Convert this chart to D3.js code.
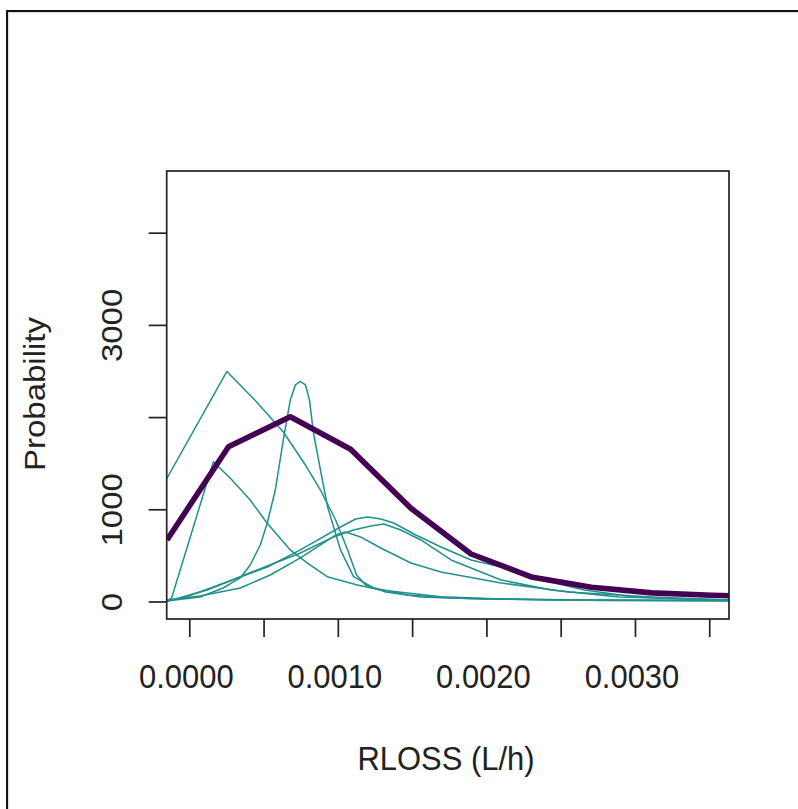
<!DOCTYPE html>
<html>
<head>
<meta charset="utf-8">
<script src="https://cdn.jsdelivr.net/npm/d3@7"></script>
<style>
  html, body { margin: 0; padding: 0; background: #fff; }
  svg { display: block; font-family: "Liberation Sans", Arial, sans-serif; }
</style>
</head>
<body>
<svg id="chart" width="798" height="809"></svg>
<script>
// ---------------- data ----------------
const xTicks = [0, 0.0005, 0.001, 0.0015, 0.002, 0.0025, 0.003, 0.0035];
const xTickLabels = ["0.0000", "", "0.0010", "", "0.0020", "", "0.0030", ""];
const yTicks = [0, 1000, 2000, 3000, 4000];
const yTickLabels = ["0", "1000", "", "3000", ""];
const xLabel = "RLOSS (L/h)";
const yLabel = "Probability";
const xDomain = [-0.000152, 0.003633];
const yDomain = [-190, 4669];

// overall (thick purple) density
const meanX = [-0.00015, 0.000264, 0.00068, 0.001086, 0.001492, 0.001897, 0.002302, 0.002707, 0.003113, 0.003518, 0.0039];
const meanY = [667, 1679, 2004, 1651, 1011, 515, 266, 155, 93, 68, 50];

// individual (teal) densities, [x, y]
const indiv1 = [[-0.000153,1329],[0.000253,2495],[0.000444,2180],[0.000633,1838],[0.000782,1480],[0.000883,1209],
  [0.000985,884],[0.001066,559],[0.001126,287],[0.001187,179],[0.001322,103],[0.001559,49],[0.001964,27],
  [0.002775,16],[0.00364,11],[0.0039,10]];
const indiv2 = [[-0.000153,5],[-0.000119,38],[0.000162,1516],[0.000275,1339],[0.00041,1101],[0.000523,851],
  [0.00068,559],[0.000793,418],[0.000928,269],[0.001131,179],[0.001289,125],[0.001694,52],[0.002099,27],
  [0.002775,11],[0.00364,5],[0.0039,4]];
const indiv3 = [[-0.000153,5],[0.0000723,49],[0.000228,146],[0.000343,255],[0.00041,396],[0.000478,613],
  [0.000525,851],[0.000579,1209],[0.000633,1752],[0.00068,2186],[0.000714,2349],[0.000748,2386],[0.000782,2349],
  [0.000809,2186],[0.000836,1828],[0.000883,1426],[0.000931,1025],[0.000978,775],[0.001018,559],[0.001106,269],
  [0.001241,146],[0.001471,70],[0.001762,38],[0.002437,16],[0.00364,11],[0.0039,10]];
const indiv4 = [[-0.000153,5],[-0.0000426,38],[0.000255,211],[0.000525,374],[0.000748,559],[0.001018,808],
  [0.00112,895],[0.001201,916],[0.001289,895],[0.001376,851],[0.001525,721],[0.001694,591],[0.001897,450],
  [0.002099,374],[0.00237,233],[0.00266,125],[0.002998,49],[0.00345,22],[0.00364,16],[0.0039,14]];
const indiv5 = [[-0.000153,0],[0.00012,125],[0.000457,342],[0.000748,526],[0.000971,700],[0.001106,775],
  [0.001221,819],[0.001309,841],[0.001424,775],[0.001559,667],[0.001762,450],[0.002099,233],[0.002437,125],
  [0.00289,49],[0.00364,16],[0.0039,14]];
const indiv6 = [[-0.000153,16],[0.0000723,60],[0.000343,146],[0.000545,287],[0.000748,472],[0.000883,613],
  [0.000985,721],[0.001052,754],[0.001153,700],[0.001289,580],[0.001492,417],[0.001694,320],[0.002099,201],
  [0.002552,103],[0.003113,49],[0.003633,16],[0.0039,12]];
const individuals = [indiv1, indiv2, indiv3, indiv4, indiv5, indiv6];

// ---------------- drawing ----------------
const svg = d3.select("#chart");
const plot = { left: 166.7, right: 729, top: 171, bottom: 619 };
const x = d3.scaleLinear().domain(xDomain).range([plot.left, plot.right]);
const y = d3.scaleLinear().domain(yDomain).range([plot.bottom, plot.top]);

// window frame
svg.append("line").attr("x1", 7).attr("x2", 798).attr("y1", 12.5).attr("y2", 12.5)
  .attr("stroke", "#ddd").attr("stroke-width", 1.5);
svg.append("line").attr("x1", 8.5).attr("x2", 8.5).attr("y1", 11).attr("y2", 809)
  .attr("stroke", "#ddd").attr("stroke-width", 1.5);
svg.append("line").attr("x1", 6).attr("x2", 798).attr("y1", 11).attr("y2", 11)
  .attr("stroke", "#111").attr("stroke-width", 2);
svg.append("line").attr("x1", 7).attr("x2", 7).attr("y1", 10).attr("y2", 809)
  .attr("stroke", "#111").attr("stroke-width", 2);

svg.append("clipPath").attr("id", "clip").append("rect")
  .attr("x", plot.left).attr("y", plot.top)
  .attr("width", plot.right - plot.left).attr("height", plot.bottom - plot.top);

const g = svg.append("g").attr("clip-path", "url(#clip)");
const line = d3.line().x(d => x(d[0])).y(d => y(d[1]));

g.selectAll("path.indiv").data(individuals).join("path")
  .attr("class", "indiv")
  .attr("d", line)
  .attr("fill", "none").attr("stroke", "#21908C").attr("stroke-width", 1.5)
  .attr("stroke-linejoin", "round");

g.append("path")
  .attr("d", line(meanX.map((v, i) => [v, meanY[i]])))
  .attr("fill", "none").attr("stroke", "#440154").attr("stroke-width", 5.6)
  .attr("stroke-linejoin", "round");

// box
svg.append("rect").attr("x", plot.left).attr("y", plot.top)
  .attr("width", plot.right - plot.left).attr("height", plot.bottom - plot.top)
  .attr("fill", "none").attr("stroke", "#222").attr("stroke-width", 1.7);

// x axis
const xAxis = d3.axisBottom(x).tickValues(xTicks).tickSize(18).tickSizeOuter(0)
  .tickFormat((d, i) => xTickLabels[i]);
const gx = svg.append("g").attr("transform", `translate(0,${plot.bottom})`).call(xAxis);
gx.select(".domain").remove();
gx.selectAll(".tick line").attr("stroke", "#222").attr("stroke-width", 1.7);
gx.selectAll(".tick text").remove();
gx.selectAll(".tick").append("text")
  .attr("transform", "translate(-3.5,69) scale(0.91,1)")
  .attr("text-anchor", "middle").attr("fill", "#222")
  .style("font-size", "34px")
  .text((d, i) => xTickLabels[i]);

// y axis
const yAxis = d3.axisLeft(y).tickValues(yTicks).tickSize(18).tickSizeOuter(0)
  .tickFormat((d, i) => yTickLabels[i]);
const gy = svg.append("g").attr("transform", `translate(${plot.left},0)`).call(yAxis);
gy.select(".domain").remove();
gy.selectAll(".tick line").attr("stroke", "#222").attr("stroke-width", 1.7);
gy.selectAll(".tick text").remove();
gy.selectAll(".tick").append("text")
  .attr("transform", `translate(${121.5 - plot.left},0) scale(0.91,1) rotate(-90)`)
  .attr("text-anchor", "middle").attr("fill", "#222")
  .style("font-size", "33px")
  .text((d, i) => yTickLabels[i]);

// axis titles
svg.append("text")
  .attr("transform", "translate(446,770) scale(0.91,1)")
  .attr("text-anchor", "middle").attr("fill", "#222")
  .style("font-size", "34px").text(xLabel);
svg.append("text")
  .attr("transform", "translate(45,394) scale(0.91,1) rotate(-90)")
  .attr("text-anchor", "middle").attr("fill", "#222")
  .style("font-size", "33px").text(yLabel);
</script>
</body>
</html>
